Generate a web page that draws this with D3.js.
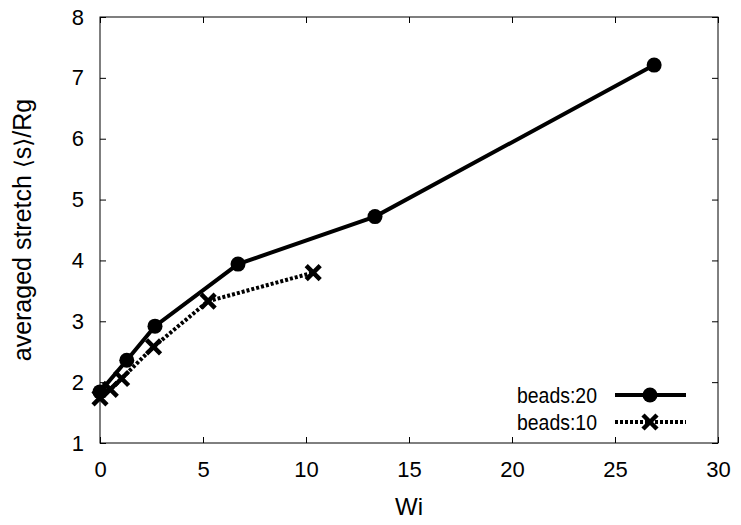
<!DOCTYPE html>
<html>
<head>
<meta charset="utf-8">
<script src="https://cdn.jsdelivr.net/npm/d3@7"></script>
<style>
  body { margin: 0; background: #fff; }
  text { font-family: "Liberation Sans", Arial, sans-serif; }
</style>
</head>
<body>
<div id="chart"></div>
<script>
// data
var wi20 = [0, 1.3, 2.67, 6.7, 13.35, 26.9];
var s20 = [1.84, 2.36, 2.92, 3.94, 4.72, 7.21];
var wi10 = [0, 0.5, 1.05, 2.6, 5.25, 10.35];
var s10 = [1.74, 1.88, 2.06, 2.58, 3.33, 3.80];
var xTicks = [0, 5, 10, 15, 20, 25, 30];
var yTicks = [1, 2, 3, 4, 5, 6, 7, 8];
var seriesNames = ["beads:20", "beads:10"];

var W = 741, H = 525;
var margin = { top: 17, right: 23, bottom: 82, left: 100 },
    width = W - margin.left - margin.right,
    height = H - margin.top - margin.bottom;

var svg = d3.select("#chart").append("svg")
    .attr("width", W)
    .attr("height", H);

var g = svg.append("g")
    .attr("transform", "translate(" + margin.left + "," + margin.top + ")");

var x = d3.scaleLinear().domain([0, 30]).range([0, width]);
var y = d3.scaleLinear().domain([1, 8]).range([height, 0]);

// inward ticks on all four sides
function styleAxis(sel) {
    sel.select(".domain").remove();
    sel.attr("font-family", null).attr("font-size", null);
    sel.selectAll(".tick line").attr("stroke", "#000");
    sel.selectAll(".tick text")
        .style("font-size", "22px")
        .attr("fill", "#000");
}

g.append("g")
    .attr("transform", "translate(0," + height + ")")
    .call(d3.axisBottom(x).tickValues(xTicks).tickSize(-6).tickPadding(18).tickFormat(d3.format("d")))
    .call(styleAxis);

g.append("g")
    .call(d3.axisTop(x).tickValues(xTicks).tickSize(-6).tickFormat(""))
    .call(styleAxis);

g.append("g")
    .call(d3.axisLeft(y).tickValues(yTicks).tickSize(-6).tickPadding(16).tickFormat(d3.format("d")))
    .call(styleAxis);

g.append("g")
    .attr("transform", "translate(" + width + ",0)")
    .call(d3.axisRight(y).tickValues(yTicks).tickSize(-6).tickFormat(""))
    .call(styleAxis);

g.append("rect")
    .attr("width", width)
    .attr("height", height)
    .attr("fill", "none")
    .attr("stroke", "#000")
    .attr("stroke-width", 1);

var line = d3.line()
    .x(function (d) { return x(d[0]); })
    .y(function (d) { return y(d[1]); });

var data20 = wi20.map(function (v, i) { return [v, s20[i]]; });
var data10 = wi10.map(function (v, i) { return [v, s10[i]]; });

function cross(sel, r) {
    sel.append("path")
        .attr("d", "M" + (-r) + "," + (-r) + "L" + r + "," + r + "M" + (-r) + "," + r + "L" + r + "," + (-r))
        .attr("stroke", "#000")
        .attr("stroke-width", 4.5)
        .attr("fill", "none");
}

// beads:10 (dotted, crosses)
g.append("path")
    .datum(data10)
    .attr("d", line)
    .attr("fill", "none")
    .attr("stroke", "#000")
    .attr("stroke-width", 4)
    .attr("stroke-dasharray", "3,2");

g.selectAll(".x10")
    .data(data10)
    .enter().append("g")
    .attr("class", "x10")
    .attr("transform", function (d) { return "translate(" + x(d[0]) + "," + y(d[1]) + ")"; })
    .each(function () { cross(d3.select(this), 7); });

// beads:20 (solid, circles)
g.append("path")
    .datum(data20)
    .attr("d", line)
    .attr("fill", "none")
    .attr("stroke", "#000")
    .attr("stroke-width", 4);

g.selectAll(".c20")
    .data(data20)
    .enter().append("circle")
    .attr("class", "c20")
    .attr("cx", function (d) { return x(d[0]); })
    .attr("cy", function (d) { return y(d[1]); })
    .attr("r", 7.5)
    .attr("fill", "#000");

// legend
var legend = g.append("g").attr("transform", "translate(" + (597 - margin.left) + "," + (395 - margin.top) + ")");
seriesNames.forEach(function (name, i) {
    var row = legend.append("g").attr("transform", "translate(0," + (i * 27) + ")");
    row.append("text")
        .attr("x", 0)
        .attr("y", 0)
        .attr("dy", "0.36em")
        .attr("text-anchor", "end")
        .style("font-size", "22px")
        .attr("textLength", 80)
        .attr("lengthAdjust", "spacingAndGlyphs")
        .text(name);
    var ln = row.append("line")
        .attr("x1", 18).attr("x2", 89)
        .attr("stroke", "#000")
        .attr("stroke-width", 4);
    if (i === 0) {
        row.append("circle").attr("cx", 53).attr("r", 7.5).attr("fill", "#000");
    } else {
        ln.attr("stroke-dasharray", "3,2");
        var m = row.append("g").attr("transform", "translate(53,0)");
        cross(m, 7);
    }
});

// axis titles
svg.append("text")
    .attr("x", margin.left + width / 2)
    .attr("y", 515)
    .attr("text-anchor", "middle")
    .style("font-size", "24px")
    .text("Wi");

var yt = svg.append("text")
    .attr("transform", "translate(31," + (margin.top + height / 2) + ") rotate(-90)")
    .attr("text-anchor", "middle")
    .style("font-size", "25px");
yt.append("tspan").text("averaged stretch ");
yt.append("tspan").style("font-family", "'DejaVu Sans'").style("font-size", "23px").text("\u27E8");
yt.append("tspan").text("s");
yt.append("tspan").style("font-family", "'DejaVu Sans'").style("font-size", "23px").text("\u27E9");
yt.append("tspan").text("/Rg");
</script>
</body>
</html>
